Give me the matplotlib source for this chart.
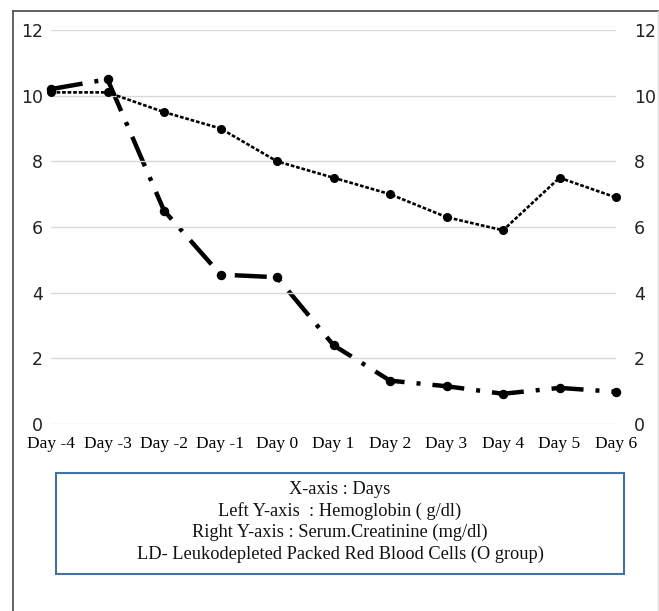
import matplotlib
matplotlib.use("Agg")
import matplotlib.pyplot as plt
from matplotlib.lines import Line2D
from matplotlib.patches import Rectangle

days = ["Day -4", "Day -3", "Day -2", "Day -1", "Day 0", "Day 1", "Day 2", "Day 3", "Day 4", "Day 5", "Day 6"]
hemoglobin = [10.1, 10.1, 9.5, 9.0, 8.0, 7.5, 7.0, 6.3, 5.9, 7.5, 6.9]
creatinine = [10.2, 10.5, 6.5, 4.55, 4.47, 2.4, 1.32, 1.15, 0.92, 1.1, 0.98]
yticks = [0, 2, 4, 6, 8, 10, 12]
notes = ["X-axis : Days",
         "Left Y-axis  : Hemoglobin ( g/dl)",
         "Right Y-axis : Serum.Creatinine (mg/dl)",
         "LD- Leukodepleted Packed Red Blood Cells (O group)"]

W, H = 659, 611
fig = plt.figure(figsize=(W / 100, H / 100), dpi=100)

ax = fig.add_axes([51 / W, (H - 424) / H, (616 - 51) / W, (424 - 30) / H])
ax2 = ax.twinx()

x = list(range(len(days)))
ax.plot(x, hemoglobin, color="black", lw=1.9, ls=(0, (1.4, 0.7)), marker="o",
        ms=5.5, zorder=3, clip_on=False)
ax2.plot(x, creatinine, color="black", lw=3.2, ls=(0, (7.2, 2.7, 0.9, 2.7)),
         marker="o", ms=5.8, zorder=3, clip_on=False)

for a in (ax, ax2):
    a.set_ylim(0, 12)
    a.set_xlim(0, len(days) - 1)
    a.set_yticks(yticks)
    for s in a.spines.values():
        s.set_visible(False)
    a.tick_params(length=0)

ax.set_yticklabels([str(t) for t in yticks], fontsize=12.5, fontfamily="DejaVu Sans", color="#222222")
ax2.set_yticklabels([str(t) for t in yticks], fontsize=12.5, fontfamily="DejaVu Sans", color="#222222")
ax.tick_params(axis="y", pad=6)
ax2.tick_params(axis="y", pad=13)
ax.set_xticks(x)
ax.set_xticklabels(days, fontsize=12.5, fontfamily="Liberation Serif")
ax.tick_params(axis="x", pad=9)
ax.grid(axis="y", color="#d9d9d9", lw=1)
ax.set_axisbelow(True)
ax.set_zorder(ax2.get_zorder() + 1)
ax.patch.set_visible(False)

# note box
fig.patches.append(Rectangle((56 / W, (H - 574) / H), (624 - 56) / W, (574 - 473) / H,
                             transform=fig.transFigure, fill=False,
                             edgecolor="#4472a0", lw=1.5))
for i, t in enumerate(notes):
    fig.text(340 / W, (H - (490 + 21.3 * i)) / H, t, ha="center", va="center",
             fontsize=13.2, fontfamily="Liberation Serif", color="#111111")

# outer frame
fig.lines.append(Line2D([13 / W, 13 / W], [0, (H - 11) / H], transform=fig.transFigure,
                        color="#555555", lw=1.3))
fig.lines.append(Line2D([13 / W, 1], [(H - 11) / H, (H - 11) / H], transform=fig.transFigure,
                        color="#555555", lw=1.3))
fig.lines.append(Line2D([657.5 / W, 657.5 / W], [0, (H - 11) / H], transform=fig.transFigure,
                        color="#dddddd", lw=1))

fig.savefig("out.png", dpi=100)
